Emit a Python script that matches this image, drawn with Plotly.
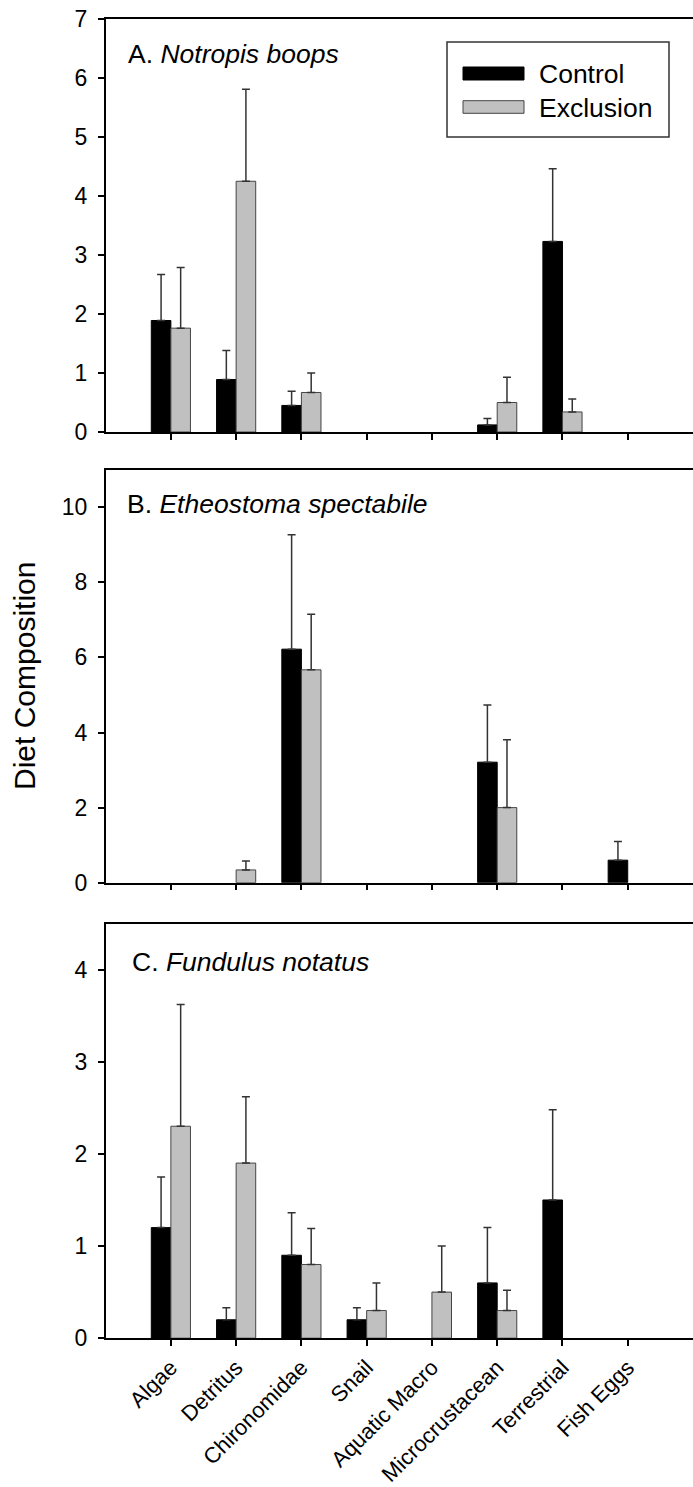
import plotly.graph_objects as go

categories = ["Algae", "Detritus", "Chironomidae", "Snail", "Aquatic Macro",
              "Microcrustacean", "Terrestrial", "Fish Eggs"]

# Panel A. Notropis boops
a_control = [1.89, 0.89, 0.45, 0, 0, 0.12, 3.23, 0]
a_control_se = [0.78, 0.49, 0.24, 0, 0, 0.11, 1.23, 0]
a_exclusion = [1.76, 4.25, 0.67, 0, 0, 0.50, 0.34, 0]
a_exclusion_se = [1.03, 1.56, 0.33, 0, 0, 0.43, 0.22, 0]

# Panel B. Etheostoma spectabile
b_control = [0, 0, 6.22, 0, 0, 3.21, 0, 0.60]
b_control_se = [0, 0, 3.05, 0, 0, 1.52, 0, 0.50]
b_exclusion = [0, 0.34, 5.67, 0, 0, 2.00, 0, 0]
b_exclusion_se = [0, 0.24, 1.48, 0, 0, 1.81, 0, 0]

# Panel C. Fundulus notatus
c_control = [1.20, 0.20, 0.90, 0.20, 0, 0.60, 1.50, 0]
c_control_se = [0.55, 0.13, 0.46, 0.13, 0, 0.60, 0.98, 0]
c_exclusion = [2.30, 1.90, 0.80, 0.30, 0.50, 0.30, 0, 0]
c_exclusion_se = [1.32, 0.72, 0.39, 0.30, 0.50, 0.22, 0, 0]

panel_titles = ["A. <i>Notropis boops</i>", "B. <i>Etheostoma spectabile</i>",
                "C. <i>Fundulus notatus</i>"]
y_ranges = [[0, 7], [0, 11], [0, 4.5]]
y_dticks = [1, 2, 1]
series_names = ["Control", "Exclusion"]

FONT = "Liberation Sans, Arial, sans-serif"
W, H = 693, 1487
CTRL_COLOR = "#000000"
EXCL_COLOR = "#c0c0c0"

panels = [
    (a_control, a_control_se, a_exclusion, a_exclusion_se),
    (b_control, b_control_se, b_exclusion, b_exclusion_se),
    (c_control, c_control_se, c_exclusion, c_exclusion_se),
]

# pixel geometry of the three plot areas (top, bottom)
panel_px = [(19, 432), (469.7, 882.7), (923.5, 1338.2)]
x_left_px = 105.6

def nz(vals):
    return [v if v > 0 else None for v in vals]

def err(vals, se):
    return [s if v > 0 else None for v, s in zip(vals, se)]

fig = go.Figure()
for i, (ctrl, ctrl_se, excl, excl_se) in enumerate(panels):
    xa = "x" if i == 0 else f"x{i+1}"
    ya = "y" if i == 0 else f"y{i+1}"
    fig.add_trace(go.Bar(
        x=categories, y=nz(ctrl), name=series_names[0], xaxis=xa, yaxis=ya,
        marker=dict(color=CTRL_COLOR, line=dict(color="#000000", width=1)),
        error_y=dict(type="data", array=err(ctrl, ctrl_se), symmetric=False,
                     arrayminus=[0] * len(ctrl), color="#333333", thickness=1.5, width=4),
        showlegend=False, offsetgroup="c"))
    fig.add_trace(go.Bar(
        x=categories, y=nz(excl), name=series_names[1], xaxis=xa, yaxis=ya,
        marker=dict(color=EXCL_COLOR, line=dict(color="#444444", width=1)),
        error_y=dict(type="data", array=err(excl, excl_se), symmetric=False,
                     arrayminus=[0] * len(excl), color="#333333", thickness=1.5, width=4),
        showlegend=False, offsetgroup="e"))

layout = dict(
    width=W, height=H, margin=dict(l=0, r=0, t=0, b=0),
    paper_bgcolor="white", plot_bgcolor="white",
    barmode="group", bargap=0.4, bargroupgap=0,
    font=dict(family=FONT, color="black"),
    showlegend=False,
)

for i in range(3):
    top, bot = panel_px[i]
    xkey = "xaxis" if i == 0 else f"xaxis{i+1}"
    ykey = "yaxis" if i == 0 else f"yaxis{i+1}"
    yref = "y" if i == 0 else f"y{i+1}"
    xref = "x" if i == 0 else f"x{i+1}"
    layout[xkey] = dict(
        domain=[x_left_px / W, 1], range=[-1, 8], anchor=yref,
        type="category", categoryorder="array", categoryarray=categories,
        showline=True, linecolor="black", linewidth=1.5, mirror=True,
        ticks="outside", ticklen=6, tickwidth=1.5, tickcolor="black",
        showgrid=False, zeroline=False,
        showticklabels=(i == 2), tickangle=-45,
        tickfont=dict(family=FONT, size=22, color="black"),
        automargin=False,
    )
    layout[ykey] = dict(
        domain=[1 - bot / H, 1 - top / H], range=y_ranges[i], anchor=xref,
        dtick=y_dticks[i], tick0=0,
        showline=True, linecolor="black", linewidth=1.5,
        ticks="outside", ticklen=6, tickwidth=1.5, tickcolor="black",
        showgrid=False, zeroline=False,
        tickfont=dict(family=FONT, size=23, color="black"),
        ticklabelstandoff=6,
        automargin=False,
    )

fig.update_layout(**layout)

title_px = [(126, 53.5), (125, 504), (129.5, 962)]
annotations = []
for i, t in enumerate(panel_titles):
    px, py = title_px[i]
    annotations.append(dict(
        text=t, x=px / W, y=1 - py / H, xref="paper", yref="paper",
        xanchor="left", yanchor="middle", showarrow=False,
        font=dict(family=FONT, size=26.5, color="black")))

annotations.append(dict(
    text="Diet Composition", x=24 / W, y=1 - 676 / H, xref="paper", yref="paper",
    xanchor="center", yanchor="middle", textangle=-90, showarrow=False,
    font=dict(family=FONT, size=30, color="black")))

# legend (drawn manually to match the wide swatches of the original)
leg_box = (447, 42, 669, 137)
leg_items = [(series_names[0], CTRL_COLOR, "#000000", 67, 80, 74),
             (series_names[1], EXCL_COLOR, "#444444", 100.7, 113.3, 107.5)]
shapes = [dict(type="rect", xref="paper", yref="paper",
               x0=leg_box[0] / W, x1=leg_box[2] / W,
               y0=1 - leg_box[3] / H, y1=1 - leg_box[1] / H,
               line=dict(color="#333333", width=1.5), fillcolor="white", layer="above")]
for name, fill, edge, y0, y1, ty in leg_items:
    shapes.append(dict(type="rect", xref="paper", yref="paper",
                       x0=463 / W, x1=524 / W, y0=1 - y1 / H, y1=1 - y0 / H,
                       fillcolor=fill, line=dict(color=edge, width=1), layer="above"))
    annotations.append(dict(
        text=name, x=537 / W, y=1 - ty / H, xref="paper", yref="paper",
        xanchor="left", yanchor="middle", showarrow=False,
        font=dict(family=FONT, size=26.5, color="black")))

fig.update_layout(annotations=annotations, shapes=shapes)

fig.write_html("out.html")
